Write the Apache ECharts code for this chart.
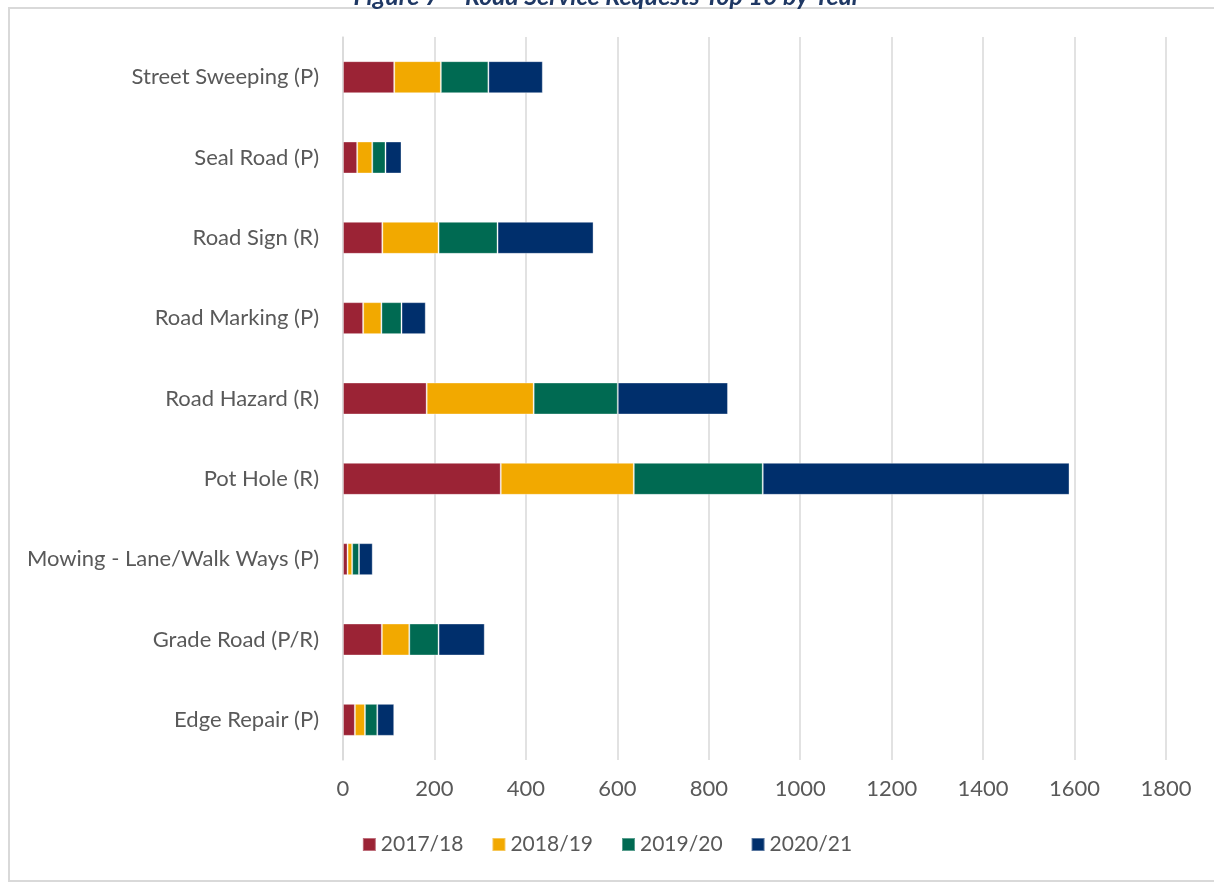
<!DOCTYPE html>
<html>
<head>
<meta charset="utf-8">
<script src="https://cdn.jsdelivr.net/npm/echarts@6/dist/echarts.min.js"></script>
<style>
html, body { margin: 0; padding: 0; background: #ffffff; }
#main { width: 1214px; height: 882px; }
</style>
</head>
<body>
<div id="main"></div>
<script>
// categories listed bottom to top (category axis on y starts at the bottom)
var categories = ['Edge Repair (P)', 'Grade Road (P/R)', 'Mowing - Lane/Walk Ways (P)', 'Pot Hole (R)',
    'Road Hazard (R)', 'Road Marking (P)', 'Road Sign (R)', 'Seal Road (P)', 'Street Sweeping (P)'];

var years = ['2017/18', '2018/19', '2019/20', '2020/21'];
var y2017 = [26, 85, 10, 345, 183, 44, 86, 31, 112];
var y2018 = [22, 60, 10, 291, 234, 40, 123, 33, 102];
var y2019 = [27, 64, 15, 282, 184, 44, 129, 29, 104];
var y2020 = [37, 101, 30, 671, 241, 53, 210, 35, 119];

var colors = ['#9b2335', '#f2a900', '#006a52', '#002f6c'];
var fontFamily = 'Lato, "Open Sans", sans-serif';

var chartDom = document.getElementById('main');
var myChart = echarts.init(chartDom);
var option;

var seriesData = [y2017, y2018, y2019, y2020];

option = {
    animation: false,
    color: colors,
    title: {
        text: 'Figure 7 \u2013 Road Service Requests Top 10 by Year',
        left: 'center',
        top: -21,
        textStyle: {
            color: '#1f3864',
            fontSize: 25,
            fontStyle: 'italic',
            fontWeight: 'bold',
            fontFamily: fontFamily
        }
    },
    graphic: [{
        type: 'rect',
        shape: { x: 9, y: 8, width: 1300, height: 873 },
        style: { fill: 'none', stroke: '#d9d9d9', lineWidth: 2 },
        silent: true,
        z: -10
    }],
    legend: {
        bottom: 22,
        left: 'center',
        itemWidth: 13,
        itemHeight: 13,
        itemGap: 28,
        icon: 'rect',
        textStyle: {
            color: '#595959',
            fontSize: 21,
            fontFamily: fontFamily
        },
        data: years
    },
    grid: {
        left: 343,
        right: 48,
        top: 37,
        bottom: 122
    },
    xAxis: {
        type: 'value',
        min: 0,
        max: 1800,
        interval: 200,
        axisLine: { show: false },
        axisTick: { show: false },
        splitLine: {
            lineStyle: { color: '#d9d9d9', width: 1.5 }
        },
        axisLabel: {
            color: '#595959',
            fontSize: 22,
            fontFamily: fontFamily,
            margin: 18,
            formatter: function (v) { return String(v); }
        }
    },
    yAxis: {
        type: 'category',
        data: categories,
        axisLine: { show: true, lineStyle: { color: '#d9d9d9', width: 1.5 } },
        axisTick: { show: false },
        axisLabel: {
            color: '#595959',
            fontSize: 22,
            fontFamily: fontFamily,
            margin: 24
        }
    },
    series: years.map(function (name, i) {
        return {
            name: name,
            type: 'bar',
            stack: 'total',
            barWidth: 32,
            itemStyle: {
                color: colors[i],
                borderColor: 'rgba(255,255,255,0.35)',
                borderWidth: 1
            },
            data: seriesData[i]
        };
    })
};

option && myChart.setOption(option);
</script>
</body>
</html>
